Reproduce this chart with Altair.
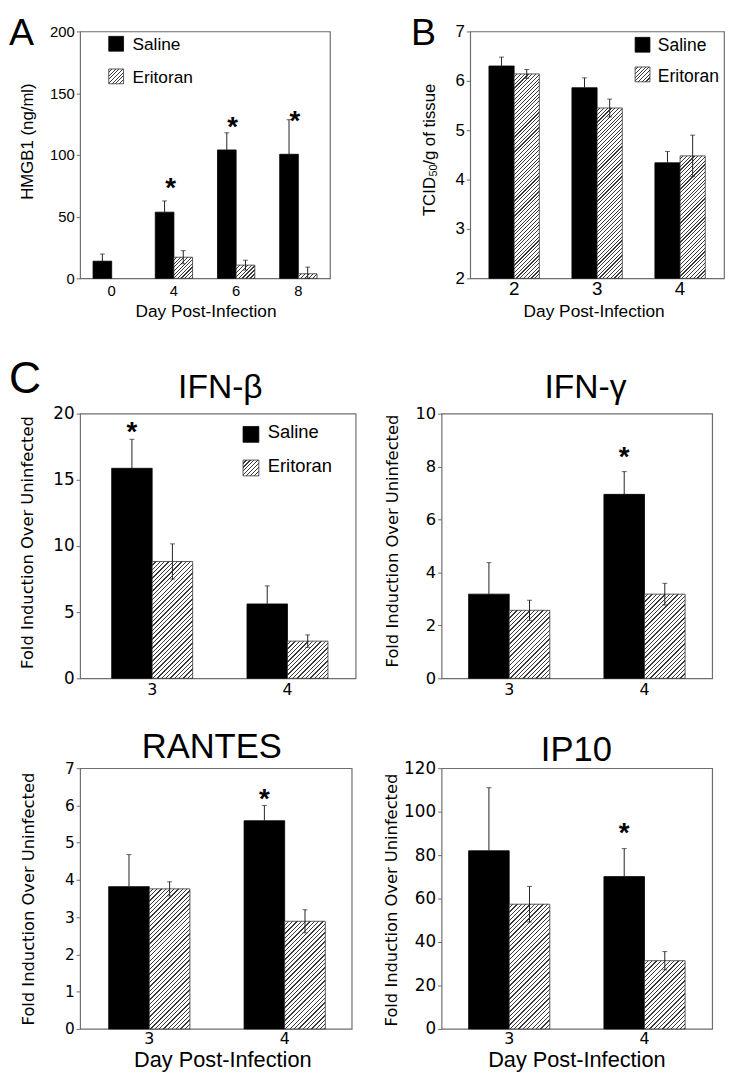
import altair as alt

GROUPS = ["Saline", "Eritoran"]
SANS = "Liberation Sans"
WIDE = "DejaVu Sans"
FRAME = "#6e6e6e"
ERR = "#222222"

# ---------------- data ----------------
a_days = ["0", "4", "6", "8"]
a_saline = [13.9, 53.6, 104.0, 100.5]
a_saline_err = [5.8, 9.1, 13.9, 28.0]
a_eritoran = [None, 17.1, 10.7, 3.7]
a_eritoran_err = [None, 5.3, 4.0, 5.4]
a_star_days = ["4", "6", "8"]
a_star_y = [78.0, 127.0, 132.5]
a_ticks = [0, 50, 100, 150, 200]

b_days = ["2", "3", "4"]
b_saline = [6.30, 5.86, 4.34]
b_saline_err = [0.18, 0.20, 0.23]
b_eritoran = [6.14, 5.45, 4.48]
b_eritoran_err = [0.09, 0.18, 0.42]
b_ticks = [2, 3, 4, 5, 6, 7]

c_days = ["3", "4"]

ifnb_saline = [15.87, 5.62]
ifnb_saline_err = [2.19, 1.37]
ifnb_eritoran = [8.83, 2.81]
ifnb_eritoran_err = [1.33, 0.47]
ifnb_star_days = ["3"]
ifnb_star_y = [19.05]
ifnb_ticks = [0, 5, 10, 15, 20]

ifng_saline = [3.18, 6.95]
ifng_saline_err = [1.19, 0.86]
ifng_eritoran = [2.57, 3.18]
ifng_eritoran_err = [0.38, 0.41]
ifng_star_days = ["4"]
ifng_star_y = [8.6]
ifng_ticks = [0, 2, 4, 6, 8, 10]

rantes_saline = [3.82, 5.59]
rantes_saline_err = [0.86, 0.41]
rantes_eritoran = [3.76, 2.89]
rantes_eritoran_err = [0.19, 0.31]
rantes_star_days = ["4"]
rantes_star_y = [6.34]
rantes_ticks = [0, 1, 2, 3, 4, 5, 6, 7]

ip10_saline = [82.0, 70.1]
ip10_saline_err = [29.0, 12.9]
ip10_eritoran = [57.4, 31.4]
ip10_eritoran_err = [8.2, 4.2]
ip10_star_days = ["4"]
ip10_star_y = [93.0]
ip10_ticks = [0, 20, 40, 60, 80, 100, 120]

ONE = [{"k": 0}]


def hatch(w, h, period, ink="#3a3a3a", paper="#ffffff", frac=0.3):
    """Diagonal '////' hatching as a hard-stop linear gradient for a w x h box."""
    s = w + h
    n = max(1, int(round(s / period)))
    norm = w * w + h * h
    stops = []
    for k in range(n):
        t0 = k / n
        t1 = (k + 1 - frac) / n
        t2 = (k + 1) / n
        stops += [
            {"offset": round(t0, 5), "color": paper},
            {"offset": round(t1, 5), "color": paper},
            {"offset": round(t1, 5), "color": ink},
            {"offset": round(t2, 5), "color": ink},
        ]
    return {"gradient": "linear", "x1": 0, "y1": 0,
            "x2": round(w * s / norm, 5), "y2": round(h * s / norm, 5),
            "stops": stops}


def text_mark(text, x, y, size, font=SANS, align="left", baseline="alphabetic", weight="normal", angle=0):
    kw = dict(text=text, font=font, fontSize=size, align=align, baseline=baseline,
              fontWeight=weight, color="black")
    if angle:
        kw["angle"] = angle
    return alt.Chart(alt.Data(values=ONE)).mark_text(**kw).encode(x=alt.value(x), y=alt.value(y))


def swatch(x0, y0, size, fill, stroke):
    return alt.Chart(alt.Data(values=ONE)).mark_rect(
        fill=fill, stroke=stroke, strokeWidth=0.8
    ).encode(x=alt.value(x0), x2=alt.value(x0 + size), y=alt.value(y0), y2=alt.value(y0 + size))


def anchor(y):
    # invisible layout guide: pins the vertical extent of a row
    return alt.Chart(alt.Data(values=ONE)).mark_rule(strokeOpacity=0, stroke="white").encode(
        x=alt.value(0), y=alt.value(y), y2=alt.value(y + 1))


def panel(days, sal, sal_err, eri, eri_err, star_days, star_y, domain, ticks, s):
    W, H = s["width"], s["height"]
    lo, hi = domain
    ppu = H / (hi - lo)
    step = W / (len(days) - s["pi"] + 2 * s["po"])
    band = step * (1 - s["pi"])
    bar_w = band / 2

    recs = []
    for i, d in enumerate(days):
        for g, vals, errs in (("Saline", sal, sal_err), ("Eritoran", eri, eri_err)):
            v = vals[i]
            if v is None:
                continue
            e = errs[i]
            if g == "Saline":
                r = {"day": d, "group": g, "value": v, "lo": v, "hi": v + e,
                     "fill": "#000000", "edge": "#000000"}
            else:
                r = {"day": d, "group": g, "value": v, "lo": max(lo, v - e), "hi": v + e,
                     "fill": hatch(bar_w, (v - lo) * ppu, s["period"]), "edge": "#333333"}
            recs.append(r)
    bar_data = alt.Data(values=recs)
    low_data = alt.Data(values=[r for r in recs if r["group"] == "Eritoran"])

    x_scale = alt.Scale(domain=days, paddingInner=s["pi"], paddingOuter=s["po"], align=s.get("align", 0.5))
    off_scale = alt.Scale(domain=GROUPS, range=[0, round(band, 3)], paddingInner=0, paddingOuter=0)
    y_scale = alt.Scale(domain=list(domain), nice=False, zero=False)

    xa = dict(labelAngle=0, ticks=False, domain=False, labelFont=s["xfont"], labelFontSize=s["xsize"],
              labelPadding=s["xpad"], labelColor="black", grid=False)
    if "xtitle" in s:
        xa.update(title=s["xtitle"], titleFont=SANS, titleFontSize=s["xtsize"], titleFontWeight="normal",
                  titleColor="black", titleX=s["xtx"], titleY=s["xty"], titleAlign="center",
                  titleBaseline="alphabetic", titleAngle=0)
    else:
        xa.update(title="")
    ya = dict(values=ticks, grid=False, domain=False, tickSize=4, tickColor=FRAME, tickWidth=1,
              labelFont=s["yfont"], labelFontSize=s["ysize"], labelPadding=2, labelColor="black",
              labelFlush=False, labelOverlap=False)
    if "ytitle" in s:
        ya.update(title=s["ytitle"], titleFont=s["ytfont"], titleFontSize=s["ytsize"], titleFontWeight="normal",
                  titleColor="black", titleX=s["ytx"], titleY=s["yty"], titleAngle=270,
                  titleAlign="center", titleBaseline="middle")
    else:
        ya.update(title="")

    def X():
        return alt.X("day:N", scale=x_scale, axis=alt.Axis(**xa))

    def XO():
        return alt.XOffset("group:N", scale=off_scale)

    def Y(field):
        return alt.Y(field, scale=y_scale, axis=alt.Axis(**ya))

    bars = alt.Chart(bar_data).mark_bar(strokeWidth=0.8).encode(
        x=X(), xOffset=XO(), y=Y("value:Q"), y2=alt.datum(lo),
        fill=alt.Fill("fill:N", scale=None, legend=None),
        stroke=alt.Stroke("edge:N", scale=None, legend=None),
    )
    errs = alt.Chart(bar_data).mark_rule(color=ERR, strokeWidth=1).encode(
        x=X(), xOffset=XO(), y=Y("lo:Q"), y2="hi:Q")
    cap_hi = alt.Chart(bar_data).mark_tick(orient="horizontal", size=5, thickness=1, color=ERR).encode(
        x=X(), xOffset=XO(), y=Y("hi:Q"))
    cap_lo = alt.Chart(low_data).mark_tick(orient="horizontal", size=5, thickness=1, color=ERR).encode(
        x=X(), xOffset=XO(), y=Y("lo:Q"))

    layers = [bars, errs, cap_hi, cap_lo]
    if star_days:
        star_data = alt.Data(values=[{"day": d, "group": "Saline", "value": v}
                                     for d, v in zip(star_days, star_y)])
        layers.append(alt.Chart(star_data).mark_text(
            text="*", font=SANS, fontSize=28, fontWeight="bold", baseline="middle",
            dy=7, dx=s.get("star_dx", 0), color="black"
        ).encode(x=X(), xOffset=XO(), y=Y("value:Q")))

    if "legend" in s:
        lg = s["legend"]
        layers += [
            swatch(lg["x"], lg["y1"], lg["sq"], "#000000", "#000000"),
            swatch(lg["x"], lg["y2"], lg["sq"], hatch(lg["sq"], lg["sq"], 3.8), "#333333"),
            text_mark("Saline", lg["tx"], lg["b1"], lg["fs"]),
            text_mark("Eritoran", lg["tx"], lg["b2"], lg["fs"]),
        ]
    for t in s.get("texts", []):
        layers.append(text_mark(**t))
    for y in s.get("anchors", []):
        layers.append(anchor(y))

    return alt.layer(*layers).properties(width=W, height=H)


# ---------------- panels ----------------
pA = panel(a_days, a_saline, a_saline_err, a_eritoran, a_eritoran_err, a_star_days, a_star_y,
           (0, 200), a_ticks, dict(
               width=253, height=250, pi=0.4, po=0.208, period=3.8, star_dx=6,
               xfont=SANS, xsize=15, xpad=5,
               xtitle="Day Post-Infection", xtsize=17.5, xtx=127, xty=39,
               yfont=SANS, ysize=15, ytitle="HMGB1 (ng/ml)", ytfont=SANS, ytsize=17, ytx=-53, yty=111,
               legend=dict(x=29, sq=15, y1=5, y2=38, tx=53, b1=19, b2=52, fs=17.5),
               texts=[dict(text="A", x=-72, y=14, size=38)],
               anchors=[-16, 250 + 54],
           ))

# B's y title "TCID50/g of tissue" with a true subscript, built from three rotated texts
B_TC = 187      # bottom end of the rotated title (start of "TCID")
pB = panel(b_days, b_saline, b_saline_err, b_eritoran, b_eritoran_err, [], [],
           (2, 7), b_ticks, dict(
               width=257, height=250, pi=0.393, po=0.226, period=3.8,
               xfont=SANS, xsize=19, xpad=1,
               xtitle="Day Post-Infection", xtsize=17.5, xtx=125, xty=39,
               yfont=SANS, ysize=17,
               legend=dict(x=167, sq=15, y1=6, y2=36, tx=190, b1=19.5, b2=51.5, fs=17.7),
               texts=[dict(text="B", x=-60, y=14, size=38),
                      dict(text="TCID", x=-40.5, y=B_TC, size=17, angle=270, baseline="middle"),
                      dict(text="50", x=-36.5, y=B_TC - 40, size=11, angle=270, baseline="middle"),
                      dict(text="/g of tissue", x=-40.5, y=B_TC - 52, size=17, angle=270,
                           baseline="middle")],
           ))

FOLD = "Fold Induction Over Uninfected"

pC1 = panel(c_days, ifnb_saline, ifnb_saline_err, ifnb_eritoran, ifnb_eritoran_err,
            ifnb_star_days, ifnb_star_y, (0, 20), ifnb_ticks, dict(
                width=279, height=268, pi=0.4015, po=0.219, align=0.533, period=4.4,
                xfont=WIDE, xsize=16, xpad=3.4,
                yfont=WIDE, ysize=17, ytitle=FOLD, ytfont=WIDE, ytsize=16.5, ytx=-53, yty=130,
                legend=dict(x=165, sq=16, y1=13, y2=47, tx=190, b1=24.5, b2=59.5, fs=18.6),
                texts=[dict(text="IFN-\u03b2", x=142, y=-15.7, size=34, align="center"),
                       dict(text="C", x=-72, y=-21, size=45)],
                anchors=[-70, 268 + 28],
            ))

pC2 = panel(c_days, ifng_saline, ifng_saline_err, ifng_eritoran, ifng_eritoran_err,
            ifng_star_days, ifng_star_y, (0, 10), ifng_ticks, dict(
                width=274, height=268, pi=0.4, po=0.2, period=4.4,
                xfont=WIDE, xsize=16, xpad=3.4,
                yfont=WIDE, ysize=16.5, ytitle=FOLD, ytfont=WIDE, ytsize=16.5, ytx=-50, yty=128.5,
                texts=[dict(text="IFN-\u03b3", x=145.7, y=-15.7, size=34, align="center")],
            ))

pC3 = panel(c_days, rantes_saline, rantes_saline_err, rantes_eritoran, rantes_eritoran_err,
            rantes_star_days, rantes_star_y, (0, 7), rantes_ticks, dict(
                width=275, height=264, pi=0.4, po=0.203, align=0.52, period=4.4,
                xfont=WIDE, xsize=16, xpad=2,
                xtitle="Day Post-Infection", xtsize=22, xtx=144, xty=38,
                yfont=WIDE, ysize=15.5, ytitle=FOLD, ytfont=WIDE, ytsize=16.5, ytx=-51.7, yty=132,
                texts=[dict(text="RANTES", x=133.3, y=-10, size=35, align="center")],
                anchors=[-50, 264 + 44],
            ))

pC4 = panel(c_days, ip10_saline, ip10_saline_err, ip10_eritoran, ip10_eritoran_err,
            ip10_star_days, ip10_star_y, (0, 120), ip10_ticks, dict(
                width=274, height=264, pi=0.4, po=0.2, period=4.4,
                xfont=WIDE, xsize=16, xpad=2,
                xtitle="Day Post-Infection", xtsize=22, xtx=136.5, xty=38,
                yfont=WIDE, ysize=17, ytitle=FOLD, ytfont=WIDE, ytsize=16.5, ytx=-51, yty=133,
                texts=[dict(text="IP10", x=136.5, y=-7, size=35, align="center")],
            ))

row1 = alt.concat(pA, pB, columns=2, spacing=142, bounds="flush", align="none").resolve_scale(
    xOffset="independent")
row2 = alt.concat(pC1, pC2, columns=2, spacing=87, bounds="flush", align="none").resolve_scale(
    xOffset="independent")
row3 = alt.concat(pC3, pC4, columns=2, spacing=91, bounds="flush", align="none").resolve_scale(
    xOffset="independent")

chart = alt.concat(row1, row2, row3, columns=1, spacing=10, bounds="full", align="none").resolve_scale(
    xOffset="independent"
).properties(
    padding=0
).configure_view(
    stroke=FRAME, strokeWidth=1.2
).configure_axis(
    grid=False
)

chart.save("out.html", embed_options={"renderer": "svg", "actions": False})
